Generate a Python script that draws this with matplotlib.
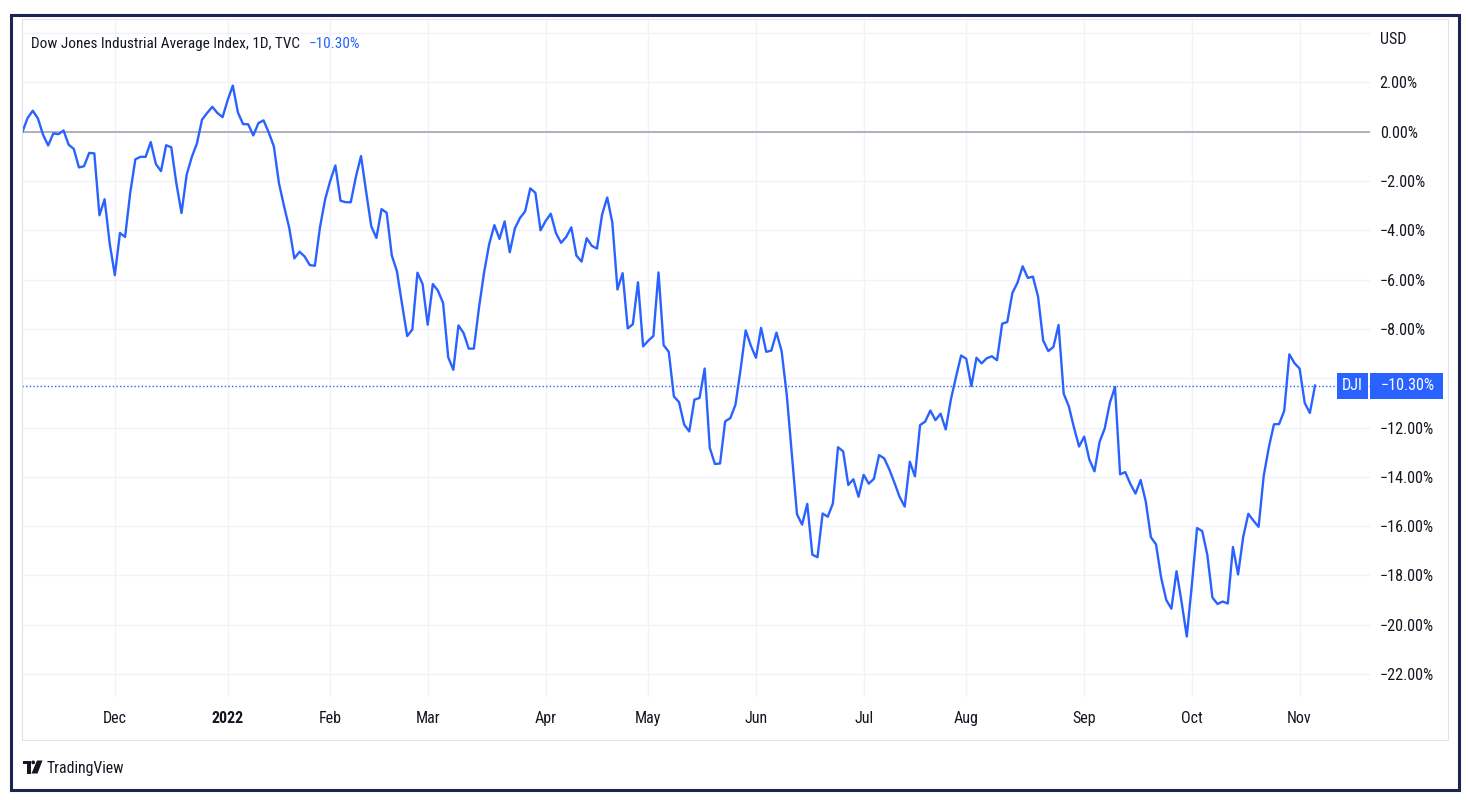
import matplotlib
matplotlib.use("Agg")
import matplotlib.pyplot as plt
import matplotlib.patches as mpatches
from matplotlib import font_manager
from matplotlib.transforms import blended_transform_factory
import pandas as pd

# narrow sans if one is installed, otherwise Liberation Sans
installed = {f.name for f in font_manager.fontManager.ttflist}
prefs = ['Liberation Sans Narrow', 'DejaVu Sans Condensed', 'Roboto Condensed', 'Liberation Sans']
FONT = next((p for p in prefs if p in installed), 'DejaVu Sans')
plt.rcParams['font.family'] = [FONT, 'DejaVu Sans']

# --- DATA: DJI close, % change vs first bar (Nov 4 2021) ---
holidays = ["2021-11-25", "2021-12-24", "2022-01-17", "2022-02-21", "2022-04-15",
            "2022-05-30", "2022-06-20", "2022-07-04", "2022-09-05"]

pct = [
    # Nov 2021
    0.00, 0.56, 0.85, 0.54, -0.12, -0.56, -0.07, -0.10, 0.05, -0.53, -0.70, -1.45,
    -1.40, -0.86, -0.88, -3.39, -2.74, -4.54,
    # Dec
    -5.82, -4.11, -4.27, -2.48, -1.12, -1.02, -1.02, -0.42, -1.31, -1.60, -0.55,
    -0.63, -2.10, -3.30, -1.75, -1.03, -0.48, 0.49, 0.76, 1.01, 0.76, 0.59,
    # Jan 2022
    1.28, 1.87, 0.78, 0.31, 0.30, -0.15, 0.35, 0.46, -0.03, -0.59, -2.09, -3.03,
    -3.90, -5.14, -4.87, -5.06, -5.41, -5.44, -3.87, -2.75,
    # Feb
    -1.99, -1.37, -2.80, -2.86, -2.86, -1.83, -0.99, -2.44, -3.84, -4.31, -3.14,
    -3.29, -5.02, -5.66, -7.00, -8.29, -8.03, -5.72, -6.18,
    # Mar
    -7.83, -6.18, -6.45, -6.95, -9.15, -9.66, -7.86, -8.17, -8.80, -8.80, -7.14,
    -5.70, -4.55, -3.79, -4.35, -3.64, -4.89, -3.92, -3.50, -3.23, -2.30, -2.48, -4.00,
    # Apr
    -3.62, -3.33, -4.11, -4.51, -4.27, -3.88, -5.03, -5.27, -4.32, -4.63, -4.74,
    -3.36, -2.67, -3.69, -6.40, -5.74, -7.98, -7.81, -6.11, -8.71,
    # May
    -8.48, -8.29, -5.71, -8.66, -8.93, -10.74, -10.97, -11.88, -12.16, -10.87,
    -10.80, -9.61, -12.83, -13.48, -13.46, -11.75, -11.62, -11.08, -9.65, -8.06, -8.68,
    # Jun
    -9.17, -7.96, -8.93, -8.88, -8.15, -8.90, -10.66, -13.10, -15.52, -15.94,
    -15.10, -17.16, -17.26, -15.49, -15.62, -15.08, -12.80, -12.97, -14.33, -14.10, -14.81,
    # Jul
    -13.92, -14.28, -14.08, -13.12, -13.25, -13.70, -14.24, -14.81, -15.21, -13.39,
    -13.98, -11.90, -11.76, -11.31, -11.70, -11.44, -12.08, -10.87, -9.95, -9.08,
    # Aug
    -9.21, -10.32, -9.17, -9.40, -9.19, -9.11, -9.27, -7.79, -7.72, -6.54, -6.12,
    -5.46, -5.93, -5.88, -6.69, -8.47, -8.90, -8.73, -7.84, -10.63, -11.14, -12.00, -12.77,
    # Sep
    -12.37, -13.30, -13.78, -12.58, -12.04, -11.00, -10.36, -13.90, -13.81, -14.29,
    -14.68, -14.13, -15.00, -16.45, -16.74, -18.09, -19.00, -19.35, -17.83, -19.10, -20.48,
    # Oct
    -18.36, -16.08, -16.20, -17.16, -18.90, -19.16, -19.06, -19.14, -16.85, -17.96,
    -16.44, -15.50, -15.78, -16.03, -13.96, -12.80, -11.87, -11.86, -11.32, -9.03, -9.39,
    # Nov 2022
    -9.61, -11.01, -11.41, -10.30,
]

month_labels = ["Dec", "2022", "Feb", "Mar", "Apr", "May", "Jun", "Jul", "Aug", "Sep", "Oct", "Nov"]
y_levels = list(range(-22, 5, 2))

dates = pd.bdate_range("2021-11-04", "2022-11-04", freq="C", holidays=holidays)
bars = list(range(len(dates)))
firsts = pd.Series(bars, index=dates).groupby([dates.year, dates.month]).first().iloc[1:]
month_pos = list(firsts.values)

# --- LAYOUT (pixels) ---
W, H = 1468, 800
TXT = '#131722'
BLUE = '#2962ff'

def fx(px):
    return px / W

def fy(py):
    return 1 - py / H

def fmt(v):
    return f"{v:.2f}%".replace("-", "\u2212")

fig = plt.figure(figsize=(W / 100, H / 100), dpi=100)
fig.patch.set_facecolor('white')
rend = fig.canvas.get_renderer()

def size_for(s, width, weight='normal'):
    # font size that makes string s about `width` pixels wide
    probe = fig.text(0, 0, s, fontsize=12, fontweight=weight)
    w = probe.get_window_extent(renderer=rend).width
    probe.remove()
    return 12 * width / w

TICK_FS = size_for("\u221212.00%", 54)
MONTH_FS = size_for("Dec", 24)
TITLE_FS = size_for("Dow Jones Industrial Average Index, 1D, TVC", 269)

L, R, T, B = 22, 1370, 20, 697
ax = fig.add_axes([fx(L), fy(B), fx(R) - fx(L), fy(T) - fy(B)])
ax.set_facecolor('white')

px_bar = 5.129
px_unit = 24.65
ax.set_xlim(-0.1, (R - 22.5) / px_bar)
ax.set_ylim((131.7 - B) / px_unit, (131.7 - T) / px_unit)

for v in y_levels:
    ax.axhline(v, color='#f0f3fa', lw=1, zorder=0)
for m in month_pos:
    ax.axvline(m, color='#f0f3fa', lw=1, zorder=0)
ax.axhline(0, color='#a9acb5', lw=1.3, zorder=1)

ax.plot(bars, pct, color=BLUE, lw=1.7, zorder=3, solid_joinstyle='round')
ax.axhline(pct[-1], color=BLUE, lw=1, linestyle=(0, (1, 1.6)), zorder=2)

for s in ax.spines.values():
    s.set_visible(False)

last = pct[-1]
ax.yaxis.tick_right()
ax.set_yticks(y_levels)
ax.set_yticklabels([fmt(v) if (v < 4 and abs(v - last) > 1) else "" for v in y_levels])
ax.tick_params(axis='y', length=0, pad=7, labelsize=TICK_FS, colors=TXT)
ax.set_xticks(month_pos)
ax.set_xticklabels(month_labels)
ax.tick_params(axis='x', length=0, pad=10, labelsize=MONTH_FS, colors=TXT)
for t in ax.get_xticklabels():
    if t.get_text() == "2022":
        t.set_fontweight('bold')

# price scale header and title
fig.text(fx(1380), fy(40), "USD", fontsize=TICK_FS, color=TXT, va='center', ha='left')
title = fig.text(fx(31), fy(44), "Dow Jones Industrial Average Index, 1D, TVC",
                 fontsize=TITLE_FS, color=TXT, va='center', ha='left')
tx1 = title.get_window_extent(renderer=rend).x1
fig.text(fx(tx1 + 9), fy(44), fmt(last), fontsize=TITLE_FS, color=BLUE, va='center', ha='left')

# last value label on price scale
bt = blended_transform_factory(fig.transFigure, ax.transData)
hh = 13 / px_unit
fig.add_artist(mpatches.FancyBboxPatch((fx(1337), last - hh), fx(1368) - fx(1337), 2 * hh,
                                       boxstyle="square,pad=0", transform=bt,
                                       facecolor=BLUE, edgecolor='none', zorder=10))
fig.add_artist(mpatches.FancyBboxPatch((fx(1369.5), last - hh), fx(1443) - fx(1369.5), 2 * hh,
                                       boxstyle="square,pad=0", transform=bt,
                                       facecolor=BLUE, edgecolor='none', zorder=10))
fig.text(fx(1352.5), last, "DJI", transform=bt, fontsize=TICK_FS, color='white',
         ha='center', va='center', zorder=11)
fig.text(fx(1408), last, fmt(last), transform=bt, fontsize=TICK_FS, color='white',
         ha='center', va='center', zorder=11)

# frames
fig.add_artist(mpatches.Rectangle((fx(22), fy(740)), fx(1448) - fx(22), fy(19) - fy(740),
                                  transform=fig.transFigure, fill=False,
                                  edgecolor='#e0e3eb', lw=0.8, zorder=1))
fig.add_artist(mpatches.Rectangle((fx(11), fy(790)), fx(1459) - fx(11), fy(15) - fy(790),
                                  transform=fig.transFigure, fill=False,
                                  edgecolor='#1b2452', lw=2.2, zorder=12))

# TradingView logo + name
logo = '#131722'
fig.add_artist(mpatches.Rectangle((fx(22.5), fy(764)), fx(30.5) - fx(22.5), fy(760.5) - fy(764),
                                  transform=fig.transFigure, facecolor=logo, edgecolor='none'))
fig.add_artist(mpatches.Rectangle((fx(27), fy(773.5)), fx(30.5) - fx(27), fy(760.5) - fy(773.5),
                                  transform=fig.transFigure, facecolor=logo, edgecolor='none'))
fig.add_artist(mpatches.Ellipse((fx(33.2), fy(762.4)), 3.8 / W, 3.8 / H,
                                transform=fig.transFigure, facecolor=logo, edgecolor='none'))
fig.add_artist(mpatches.Polygon([(fx(37), fy(760.5)), (fx(42.5), fy(760.5)),
                                 (fx(37.5), fy(773.5)), (fx(31.5), fy(773.5))],
                                transform=fig.transFigure, facecolor=logo, edgecolor='none'))
fig.text(fx(47), fy(768), "TradingView", fontsize=size_for("TradingView", 78),
         color=TXT, va='center', ha='left')

fig.savefig("out.png", dpi=100)
